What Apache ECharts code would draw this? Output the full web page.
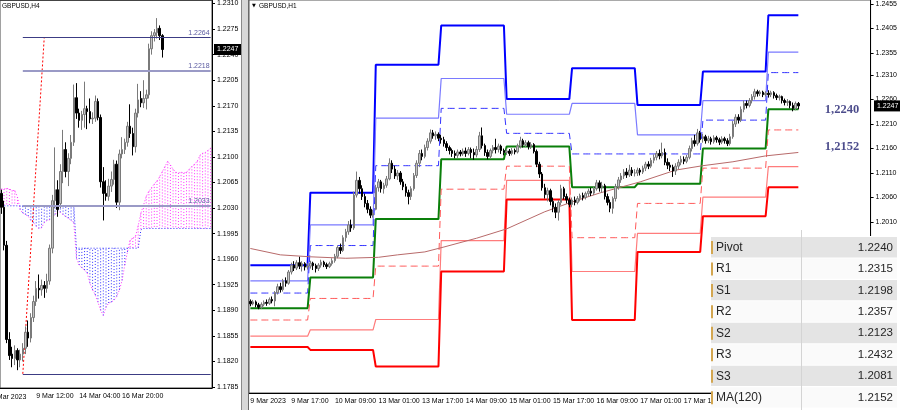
<!DOCTYPE html>
<html><head><meta charset="utf-8">
<script src="https://cdn.jsdelivr.net/npm/echarts@6/dist/echarts.min.js"></script>
<style>html,body{margin:0;padding:0;background:#fff;}#c{width:900px;height:410px;}</style>
</head><body><div id="c"></div>
<script>
// ---------------- LEFT PANEL (GBPUSD, H4) ----------------
const h4Days = ['7 Mar','8 Mar','9 Mar','10 Mar','13 Mar','14 Mar','15 Mar','16 Mar','17 Mar','20 Mar','21 Mar','22 Mar','23 Mar','24 Mar'];
const h4Hours = ['00:00','04:00','08:00','12:00','16:00','20:00'];
const leftAxisTicks = [1.2310,1.2275,1.2240,1.2205,1.2170,1.2135,1.2100,1.2065,1.2030,1.1995,1.1960,1.1925,1.1890,1.1855,1.1820,1.1785];
// [open, close, low, high]
const h4Candles = [
 [1.2050,1.2031,1.2022,1.2055],[1.2031,1.1979,1.1972,1.2040],[1.1979,1.1850,1.1845,1.1985],[1.1850,1.1828,1.1822,1.1860],
 [1.1830,1.1824,1.1812,1.1840],[1.1824,1.1835,1.1815,1.1842],[1.1835,1.1822,1.1808,1.1838],[1.1822,1.1830,1.1812,1.1836],
 [1.1830,1.1838,1.1820,1.1845],[1.1838,1.1860,1.1830,1.1868],[1.1860,1.1852,1.1840,1.1876],[1.1852,1.1880,1.1846,1.1886],
 [1.1880,1.1902,1.1874,1.1910],[1.1902,1.1920,1.1896,1.1930],[1.1920,1.1918,1.1906,1.1939],[1.1918,1.1924,1.1910,1.1932],
 [1.1924,1.1920,1.1907,1.1930],[1.1920,1.1930,1.1914,1.1940],[1.1930,1.1975,1.1925,1.1980],[1.1975,1.2040,1.1968,1.2048],
 [1.2040,1.2055,1.2030,1.2113],[1.2055,1.2028,1.2018,1.2068],[1.2036,1.2080,1.2030,1.2090],[1.2080,1.2110,1.2064,1.2137],
 [1.2110,1.2080,1.2072,1.2120],[1.2080,1.2098,1.2060,1.2105],[1.2098,1.2120,1.2090,1.2130],[1.2120,1.2181,1.2115,1.2199],
 [1.2181,1.2160,1.2152,1.2201],[1.2160,1.2150,1.2140,1.2166],[1.2150,1.2158,1.2137,1.2163],[1.2158,1.2166,1.2140,1.2203],
 [1.2166,1.2162,1.2138,1.2170],[1.2162,1.2152,1.2146,1.2180],[1.2152,1.2153,1.2145,1.2161],[1.2153,1.2176,1.2148,1.2184],
 [1.2176,1.2154,1.2150,1.2180],[1.2154,1.2066,1.2058,1.2158],[1.2066,1.2050,1.2013,1.2086],[1.2050,1.2046,1.2040,1.2068],
 [1.2046,1.2060,1.2040,1.2070],[1.2060,1.2069,1.2052,1.2080],[1.2069,1.2090,1.2062,1.2096],[1.2090,1.2038,1.2030,1.2095],
 [1.2038,1.2104,1.2027,1.2110],[1.2104,1.2110,1.2098,1.2127],[1.2110,1.2120,1.2104,1.2125],[1.2120,1.2142,1.2114,1.2148],
 [1.2142,1.2132,1.2126,1.2172],[1.2132,1.2114,1.2102,1.2140],[1.2114,1.2160,1.2106,1.2166],[1.2160,1.2178,1.2154,1.2200],
 [1.2180,1.2174,1.2168,1.2190],[1.2174,1.2180,1.2167,1.2205],[1.2180,1.2185,1.2165,1.2192],[1.2185,1.2248,1.2180,1.2255],
 [1.2248,1.2266,1.2240,1.2272],[1.2266,1.2270,1.2258,1.2275],[1.2270,1.2276,1.2262,1.2290],[1.2276,1.2266,1.2260,1.2280],
 [1.2266,1.2247,1.2236,1.2268]
];
const spanA = [1.2056,1.2056,1.2057,1.2056,1.2054,1.2054,1.2045,1.2028,1.2023,1.2021,1.2019,1.2013,1.2010,1.2005,1.2002,1.2003,
 1.2010,1.2013,1.2014,1.2017,1.2021,1.2026,1.2024,1.2021,1.2018,1.2016,1.2013,1.2010,1.1961,1.1952,1.1948,1.1945,1.1941,1.1927,
 1.1918,1.1911,1.1901,1.1890,1.1883,1.1894,1.1900,1.1901,1.1904,1.1909,1.1918,1.1931,1.1952,1.1970,1.1986,1.1989,1.1991,1.2006,
 1.2023,1.2034,1.2046,1.2053,1.2058,1.2063,1.2067,1.2073,1.2080,1.2087,1.2094,1.2089,1.2083,1.2079,1.2078,1.2079,1.2078,1.2079,
 1.2083,1.2087,1.2090,1.2094,1.2102,1.2105,1.2106,1.2109,1.2112];
const spanB = [1.2033,1.2033,1.2033,1.2033,1.2033,1.2033,1.2033,1.2033,1.2033,1.2033,1.2033,1.2033,1.2033,1.2033,1.2033,1.2033,
 1.2033,1.2033,1.2033,1.2033,1.2033,1.2033,1.2033,1.2033,1.2033,1.2033,1.2033,1.2033,1.1975,1.1975,1.1975,1.1975,1.1975,1.1975,
 1.1975,1.1975,1.1975,1.1975,1.1975,1.1975,1.1975,1.1975,1.1975,1.1975,1.1975,1.1975,1.1975,1.1975,1.1975,1.1975,1.1975,1.1975,
 1.2000,1.2002,1.2002,1.2002,1.2002,1.2002,1.2002,1.2002,1.2002,1.2002,1.2002,1.2002,1.2002,1.2002,1.2002,1.2002,1.2002,1.2002,
 1.2002,1.2002,1.2002,1.2002,1.2002,1.2002,1.2002,1.2002,1.2002];
const fibLevels = [1.2264, 1.2218, 1.2033, 1.1803];
const fibLabels = ['1.2264','1.2218','1.2033',''];
const fibTrend = [[8, 1.1803], [16, 1.2264]];

// ---------------- RIGHT PANEL (GBPUSD, H1) ----------------
const h1Days = ['9 Mar','10 Mar','13 Mar','14 Mar','15 Mar','16 Mar','17 Mar','20 Mar','21 Mar','22 Mar'];
const rightAxisTicks = [1.2455,1.2405,1.2355,1.2310,1.2260,1.2210,1.2160,1.2110,1.2060,1.2010];
const h1_09Mar = [
 [1.1848,1.1843,1.1838,1.1852],[1.1843,1.1847,1.1840,1.1851],[1.1847,1.1841,1.1836,1.1850],[1.1841,1.1836,1.1832,1.1845],
 [1.1836,1.1842,1.1833,1.1846],[1.1842,1.1846,1.1838,1.1850],[1.1846,1.1844,1.1839,1.1852],[1.1844,1.1852,1.1841,1.1856],
 [1.1852,1.1849,1.1844,1.1858],[1.1849,1.1866,1.1838,1.1869],[1.1866,1.1878,1.1862,1.1884],[1.1878,1.1872,1.1866,1.1886],
 [1.1872,1.1890,1.1868,1.1894],[1.1890,1.1885,1.1878,1.1897],[1.1885,1.1908,1.1882,1.1912],[1.1908,1.1922,1.1903,1.1927],
 [1.1922,1.1916,1.1910,1.1930],[1.1916,1.1927,1.1912,1.1932],[1.1927,1.1920,1.1914,1.1939],[1.1920,1.1925,1.1909,1.1930],
 [1.1925,1.1918,1.1911,1.1928],[1.1918,1.1920,1.1913,1.1926]];
const h1_10Mar = [
 [1.1920,1.1926,1.1915,1.1931],[1.1926,1.1921,1.1912,1.1929],[1.1921,1.1915,1.1907,1.1925],[1.1915,1.1922,1.1910,1.1926],
 [1.1922,1.1928,1.1917,1.1933],[1.1928,1.1923,1.1918,1.1931],[1.1923,1.1919,1.1914,1.1927],[1.1919,1.1925,1.1916,1.1929],
 [1.1925,1.1931,1.1921,1.1936],[1.1931,1.1940,1.1927,1.1945],[1.1940,1.1958,1.1936,1.1962],[1.1958,1.1952,1.1945,1.1966],
 [1.1952,1.1978,1.1949,1.1983],[1.1978,1.1990,1.1970,1.1996],[1.1990,1.2004,1.1984,1.2012],[1.2004,1.1998,1.1990,1.2015],
 [1.1998,1.2065,1.1994,1.2072],[1.2065,1.2095,1.2060,1.2113],[1.2095,1.2078,1.2068,1.2102],[1.2078,1.2062,1.2055,1.2085],
 [1.2062,1.2048,1.2040,1.2068],[1.2048,1.2036,1.2028,1.2055],[1.2036,1.2024,1.2018,1.2042],[1.2024,1.2028,1.2019,1.2035]];
const h1_13Mar = [
 [1.2036,1.2080,1.2034,1.2086],[1.2080,1.2092,1.2072,1.2098],[1.2092,1.2078,1.2070,1.2096],[1.2078,1.2085,1.2068,1.2090],
 [1.2085,1.2098,1.2080,1.2104],[1.2098,1.2130,1.2095,1.2140],[1.2130,1.2118,1.2110,1.2136],[1.2118,1.2104,1.2098,1.2125],
 [1.2104,1.2110,1.2096,1.2116],[1.2110,1.2092,1.2086,1.2114],[1.2092,1.2082,1.2075,1.2098],[1.2082,1.2070,1.2062,1.2088],
 [1.2070,1.2062,1.2046,1.2076],[1.2062,1.2078,1.2055,1.2083],[1.2078,1.2105,1.2074,1.2110],[1.2105,1.2130,1.2100,1.2136],
 [1.2130,1.2150,1.2122,1.2157],[1.2150,1.2144,1.2136,1.2158],[1.2144,1.2162,1.2140,1.2168],[1.2162,1.2175,1.2156,1.2181],
 [1.2175,1.2192,1.2170,1.2199],[1.2192,1.2186,1.2180,1.2198],[1.2186,1.2189,1.2178,1.2195],[1.2189,1.2181,1.2175,1.2193]];
const h1_14Mar = [
 [1.2181,1.2178,1.2170,1.2188],[1.2178,1.2170,1.2164,1.2184],[1.2170,1.2162,1.2155,1.2175],[1.2162,1.2156,1.2148,1.2166],
 [1.2156,1.2150,1.2143,1.2160],[1.2150,1.2146,1.2140,1.2156],[1.2146,1.2153,1.2141,1.2158],[1.2153,1.2149,1.2144,1.2157],
 [1.2149,1.2155,1.2145,1.2160],[1.2155,1.2150,1.2143,1.2162],[1.2150,1.2158,1.2146,1.2163],[1.2158,1.2152,1.2140,1.2162],
 [1.2152,1.2147,1.2137,1.2160],[1.2147,1.2158,1.2142,1.2165],[1.2158,1.2186,1.2153,1.2194],[1.2186,1.2166,1.2160,1.2203],
 [1.2166,1.2152,1.2145,1.2170],[1.2152,1.2144,1.2138,1.2158],[1.2144,1.2156,1.2139,1.2160],[1.2156,1.2162,1.2150,1.2167],
 [1.2162,1.2158,1.2150,1.2180],[1.2158,1.2165,1.2152,1.2170],[1.2165,1.2156,1.2149,1.2168],[1.2156,1.2152,1.2146,1.2160]];
const h1_15Mar = [
 [1.2152,1.2155,1.2147,1.2160],[1.2155,1.2150,1.2145,1.2159],[1.2150,1.2156,1.2146,1.2161],[1.2156,1.2153,1.2148,1.2160],
 [1.2153,1.2165,1.2150,1.2170],[1.2165,1.2176,1.2160,1.2184],[1.2176,1.2168,1.2162,1.2180],[1.2168,1.2172,1.2163,1.2177],
 [1.2172,1.2164,1.2158,1.2176],[1.2164,1.2168,1.2159,1.2173],[1.2168,1.2154,1.2150,1.2171],[1.2154,1.2128,1.2122,1.2158],
 [1.2128,1.2108,1.2100,1.2133],[1.2108,1.2080,1.2074,1.2112],[1.2080,1.2066,1.2058,1.2088],[1.2066,1.2074,1.2052,1.2080],
 [1.2074,1.2052,1.2044,1.2078],[1.2052,1.2040,1.2030,1.2060],[1.2040,1.2030,1.2018,1.2048],[1.2030,1.2050,1.2013,1.2055],
 [1.2050,1.2078,1.2044,1.2086],[1.2078,1.2062,1.2056,1.2082],[1.2062,1.2055,1.2048,1.2068],[1.2055,1.2046,1.2040,1.2060]];
const h1_16Mar = [
 [1.2046,1.2055,1.2040,1.2060],[1.2055,1.2050,1.2044,1.2062],[1.2050,1.2058,1.2046,1.2063],[1.2058,1.2064,1.2052,1.2068],
 [1.2064,1.2060,1.2054,1.2070],[1.2060,1.2068,1.2056,1.2072],[1.2068,1.2073,1.2062,1.2078],[1.2073,1.2069,1.2063,1.2080],
 [1.2069,1.2078,1.2065,1.2083],[1.2078,1.2090,1.2074,1.2096],[1.2090,1.2080,1.2072,1.2095],[1.2080,1.2084,1.2070,1.2092],
 [1.2084,1.2062,1.2056,1.2088],[1.2062,1.2050,1.2044,1.2068],[1.2050,1.2038,1.2030,1.2056],[1.2038,1.2058,1.2027,1.2062],
 [1.2058,1.2082,1.2052,1.2088],[1.2082,1.2096,1.2076,1.2102],[1.2096,1.2104,1.2090,1.2110],[1.2104,1.2112,1.2098,1.2118],
 [1.2112,1.2106,1.2100,1.2120],[1.2106,1.2116,1.2102,1.2127],[1.2116,1.2110,1.2104,1.2122],[1.2110,1.2110,1.2103,1.2118]];
const h1_17Mar = [
 [1.2110,1.2116,1.2104,1.2121],[1.2116,1.2112,1.2105,1.2120],[1.2112,1.2120,1.2108,1.2125],[1.2120,1.2128,1.2114,1.2133],
 [1.2128,1.2124,1.2118,1.2134],[1.2124,1.2136,1.2120,1.2141],[1.2136,1.2142,1.2130,1.2148],[1.2142,1.2150,1.2136,1.2155],
 [1.2150,1.2145,1.2138,1.2158],[1.2145,1.2152,1.2140,1.2172],[1.2152,1.2132,1.2126,1.2160],[1.2132,1.2126,1.2118,1.2140],
 [1.2126,1.2122,1.2114,1.2132],[1.2122,1.2114,1.2102,1.2127],[1.2114,1.2124,1.2106,1.2130],[1.2124,1.2132,1.2118,1.2138],
 [1.2132,1.2138,1.2126,1.2145],[1.2138,1.2134,1.2128,1.2144],[1.2134,1.2142,1.2130,1.2147],[1.2142,1.2160,1.2138,1.2166],
 [1.2160,1.2176,1.2154,1.2182],[1.2176,1.2170,1.2164,1.2188],[1.2170,1.2192,1.2166,1.2200],[1.2192,1.2178,1.2172,1.2196]];
const h1_20Mar = [
 [1.2180,1.2184,1.2172,1.2190],[1.2184,1.2176,1.2170,1.2188],[1.2176,1.2180,1.2171,1.2186],[1.2180,1.2174,1.2168,1.2184],
 [1.2174,1.2182,1.2170,1.2187],[1.2182,1.2178,1.2172,1.2186],[1.2178,1.2173,1.2167,1.2182],[1.2173,1.2180,1.2169,1.2185],
 [1.2180,1.2176,1.2170,1.2184],[1.2176,1.2170,1.2165,1.2181],[1.2170,1.2184,1.2166,1.2190],[1.2184,1.2210,1.2180,1.2216],
 [1.2210,1.2224,1.2204,1.2230],[1.2224,1.2218,1.2211,1.2230],[1.2218,1.2240,1.2214,1.2246],[1.2240,1.2252,1.2234,1.2258],
 [1.2252,1.2248,1.2242,1.2258],[1.2248,1.2258,1.2244,1.2263],[1.2258,1.2266,1.2252,1.2271],[1.2266,1.2276,1.2260,1.2282],
 [1.2276,1.2272,1.2266,1.2280],[1.2272,1.2275,1.2267,1.2279],[1.2275,1.2270,1.2265,1.2278],[1.2270,1.2273,1.2266,1.2277]];
const h1_21Mar = [
 [1.2273,1.2270,1.2264,1.2279],[1.2270,1.2274,1.2265,1.2278],[1.2274,1.2268,1.2262,1.2277],[1.2268,1.2264,1.2259,1.2272],
 [1.2264,1.2266,1.2258,1.2270],[1.2266,1.2258,1.2252,1.2268],[1.2258,1.2254,1.2248,1.2262],[1.2254,1.2256,1.2247,1.2261],
 [1.2256,1.2248,1.2242,1.2258],[1.2248,1.2242,1.2236,1.2254],[1.2242,1.2252,1.2238,1.2256],[1.2252,1.2247,1.2240,1.2255]];
// daily pivot levels: 9,10,13,14,15,16,17,20,21 Mar
const dayBars = [22,24,24,24,24,24,24,24,12];
const levelR3 = [1.1922,1.2070,1.2331,1.2411,1.2261,1.2324,1.2249,1.2317,1.2432];
const levelR2 = [1.1890,1.2004,1.2222,1.2303,1.2230,1.2252,1.2188,1.2258,1.2357];
const levelR1 = [1.1865,1.1962,1.2125,1.2242,1.2191,1.2149,1.2149,1.2218,1.2315];
const levelP  = [1.1834,1.1897,1.2016,1.2138,1.2164,1.2081,1.2088,1.2160,1.2240];
const levelS1 = [1.1810,1.1854,1.1920,1.2077,1.2124,1.1978,1.2048,1.2120,1.2198];
const levelS2 = [1.1777,1.1790,1.1811,1.1972,1.2095,1.1909,1.1987,1.2061,1.2123];
const levelS3 = [1.1755,1.1749,1.1715,1.1909,1.2056,1.1810,1.1949,1.2022,1.2081];
// MA(120) readings: [bar index, value]
const ma120 = [[0,1.1956],[11,1.1943],[22,1.1939],[35,1.1936],[47,1.1938],[54,1.1943],[64,1.1949],[71,1.1959],
 [83,1.1977],[94,1.1996],[108,1.2031],[118,1.2051],[128,1.2069],[143,1.2092],[156,1.2116],[166,1.2125],[177,1.2133],[189,1.2145],[201,1.2152]];
const tableLabels = ['Pivot','R1','S1','R2','S2','R3','S3','MA(120)'];
const tableValues = [1.2240,1.2315,1.2198,1.2357,1.2123,1.2432,1.2081,1.2152];
const lastPrice = 1.2247;

// ---------------- build ----------------
const leftCats = [];
h4Days.forEach(d => h4Hours.forEach(h => leftCats.push(d + ' ' + h)));
leftCats.splice(0, 2); leftCats.length = 79;
const rightCats = [];
h1Days.forEach(d => { for (let h = 0; h < 24; h++) rightCats.push(d + ' ' + String(h).padStart(2,'0') + ':00'); });
rightCats.splice(0, 2); rightCats.length = 228;
const h1Candles = [].concat(h1_09Mar, h1_10Mar, h1_13Mar, h1_14Mar, h1_15Mar, h1_16Mar, h1_17Mar, h1_20Mar, h1_21Mar);
function expand(levels) { const out = []; levels.forEach((v, d) => { for (let k = 0; k < dayBars[d]; k++) out.push(v); }); return out; }

const FONT = '"Liberation Sans", Arial, sans-serif';
const candleStyle = { color: '#c4c4c4', color0: '#000000', borderColor: '#7a7a7a', borderColor0: '#000000', borderWidth: 1 };

function pivotLine(name, levels, color, width, dash) {
  return { name, type: 'line', xAxisIndex: 1, yAxisIndex: 1, data: expand(levels), symbol: 'none', silent: true, z: 3,
    lineStyle: { color, width, type: dash ? [7, 4] : 'solid' } };
}

const option = {
  animation: false,
  backgroundColor: '#ffffff',
  grid: [
    { left: -2, top: 0, width: 214, height: 388, show: true, borderColor: '#444', borderWidth: 1, backgroundColor: '#fff' },
    { left: 249, top: 0, width: 623, height: 393, show: true, borderColor: '#555', borderWidth: 1, backgroundColor: '#fff' }
  ],
  xAxis: [
    { type: 'category', gridIndex: 0, data: leftCats, boundaryGap: true,
      axisLine: { lineStyle: { color: '#000' } },
      axisTick: { alignWithLabel: true, length: 3, interval: (i) => i <= 60 && (i - 13) % 16 === 0, lineStyle: { color: '#000' } },
      axisLabel: { interval: (i) => i <= 60 && (i - 13) % 16 === 0, align: 'left', fontSize: 7, fontFamily: FONT, color: '#000', margin: 5 },
      splitLine: { show: false } },
    { type: 'category', gridIndex: 1, data: rightCats, boundaryGap: true,
      axisLine: { lineStyle: { color: '#000' } },
      axisTick: { alignWithLabel: true, length: 3, interval: (i) => i <= 201 && (i === 0 || (i - 15) % 16 === 0), lineStyle: { color: '#000' } },
      axisLabel: { interval: (i) => i <= 201 && (i === 0 || (i - 15) % 16 === 0), align: 'left', fontSize: 7, fontFamily: FONT, color: '#000', margin: 5,
        formatter: (v, i) => i === 0 ? '9 Mar 2023' : v },
      splitLine: { show: false } }
  ],
  yAxis: [
    { type: 'value', gridIndex: 0, position: 'right', min: 1.17836, max: 1.23141, scale: true,
      axisLine: { show: true, lineStyle: { color: '#000' } },
      axisTick: { show: true, length: 3, customValues: leftAxisTicks, lineStyle: { color: '#000' } },
      axisLabel: { customValues: leftAxisTicks, formatter: (v) => v.toFixed(4), fontSize: 7, fontFamily: FONT, color: '#000', margin: 5 },
      splitLine: { show: false } },
    { type: 'value', gridIndex: 1, position: 'right', min: 1.16610, max: 1.24632, scale: true,
      axisLine: { show: true, lineStyle: { color: '#000' } },
      axisTick: { show: true, length: 3, customValues: rightAxisTicks, lineStyle: { color: '#000' } },
      axisLabel: { customValues: rightAxisTicks, formatter: (v) => v.toFixed(4), fontSize: 7, fontFamily: FONT, color: '#000', margin: 5 },
      splitLine: { show: false } }
  ],
  series: [
    // Ichimoku cloud hatch
    { type: 'custom', xAxisIndex: 0, yAxisIndex: 0, silent: true, z: 1, clip: true,
      data: spanA.map((a, i) => [i, a, spanB[i]]),
      renderItem: function (params, api) {
        const x = api.value(0), a = api.value(1), b = api.value(2);
        const pa = api.coord([x, a]), pb = api.coord([x, b]);
        return { type: 'line', shape: { x1: pa[0], y1: pa[1], x2: pb[0], y2: pb[1] },
          style: { stroke: a > b ? '#ff33ff' : '#3333ff', lineWidth: 1, lineDash: [1, 2] } };
      } },
    { type: 'line', xAxisIndex: 0, yAxisIndex: 0, data: spanA, symbol: 'none', silent: true, z: 2,
      lineStyle: { color: '#ff33ff', width: 1, type: [1, 2] } },
    { type: 'line', xAxisIndex: 0, yAxisIndex: 0, data: spanB, symbol: 'none', silent: true, z: 2,
      lineStyle: { color: '#3333ff', width: 1, type: [1, 2] },
      markLine: { silent: true, symbol: 'none', animation: false,
        data: fibLevels.map((v, k) => [
          { coord: [8, v], lineStyle: { color: k === 1 || k === 2 ? '#9a9ac6' : '#3c3c84', width: k === 1 || k === 2 ? 2 : 1, type: 'solid' },
            label: { show: fibLabels[k] !== '', formatter: fibLabels[k], position: 'insideEndTop', color: '#5a5aa0', fontSize: 7, fontFamily: FONT, distance: 1 } },
          { coord: [78, v] }
        ]) } },
    { type: 'line', xAxisIndex: 0, yAxisIndex: 0, data: fibTrend, symbol: 'none', silent: true, z: 2,
      lineStyle: { color: '#ff0000', width: 1, type: [2, 2] } },
    { type: 'candlestick', xAxisIndex: 0, yAxisIndex: 0, data: h4Candles, barWidth: 2, itemStyle: candleStyle, z: 4, silent: true },
    // right panel
    pivotLine('R3', levelR3, '#0000ff', 2, false),
    pivotLine('R2', levelR2, '#7a7aff', 1.2, false),
    pivotLine('R1', levelR1, '#3434ff', 1, true),
    pivotLine('P', levelP, '#0a7f0a', 2, false),
    pivotLine('S1', levelS1, '#ff5a5a', 1, true),
    pivotLine('S2', levelS2, '#ff7c7c', 1.2, false),
    pivotLine('S3', levelS3, '#ff0000', 2, false),
    { type: 'line', xAxisIndex: 1, yAxisIndex: 1, data: ma120, symbol: 'none', silent: true, z: 3,
      lineStyle: { color: '#b86a6a', width: 1 } },
    { type: 'candlestick', xAxisIndex: 1, yAxisIndex: 1, data: h1Candles, barWidth: 2, itemStyle: candleStyle, z: 5, silent: true },
    { type: 'scatter', xAxisIndex: 1, yAxisIndex: 1, symbolSize: 0, silent: true, z: 6,
      data: [[217, levelP[levelP.length - 1]], [217, ma120[ma120.length - 1][1]]],
      label: { show: true, position: 'inside', formatter: (p) => p.value[1].toFixed(4).replace('.', ','),
        fontFamily: '"Liberation Serif", "DejaVu Serif", serif', fontWeight: 'bold', fontSize: 12.5, color: '#1e1e6e',
        offset: [0, 0] },
      labelLayout: (p) => p.dataIndex === 1 ? { dy: -6 } : {} }
  ]
};

const chart = echarts.init(document.getElementById('c'), null, { renderer: 'canvas', width: 900, height: 410 });
chart.setOption(option);

const yL = chart.convertToPixel({ gridIndex: 0 }, [0, lastPrice])[1];
const yR = chart.convertToPixel({ gridIndex: 1 }, [0, lastPrice])[1];

const g = [];
// panel divider
g.push({ type: 'rect', shape: { x: 241, y: 0, width: 7, height: 410 }, style: { fill: '#d8d8d8' }, z: 50 });
g.push({ type: 'line', shape: { x1: 241.5, y1: 0, x2: 241.5, y2: 410 }, style: { stroke: '#8a8a8a', lineWidth: 1 }, z: 51 });
g.push({ type: 'line', shape: { x1: 248.5, y1: 0, x2: 248.5, y2: 410 }, style: { stroke: '#6a6a6a', lineWidth: 1 }, z: 51 });
// titles
g.push({ type: 'text', x: 2, y: 6, style: { text: 'GBPUSD,H4', fontSize: 6.5, fontFamily: FONT, fill: '#000', verticalAlign: 'middle' }, z: 60 });
g.push({ type: 'text', x: 252, y: 6, style: { text: '▼', fontSize: 5, fontFamily: '"DejaVu Sans"', fill: '#000', verticalAlign: 'middle' }, z: 60 });
g.push({ type: 'text', x: 259, y: 6, style: { text: 'GBPUSD,H1', fontSize: 6.5, fontFamily: FONT, fill: '#000', verticalAlign: 'middle' }, z: 60 });
// first (cut) date label of left panel
g.push({ type: 'text', x: -9, y: 397, style: { text: '7 Mar 2023', fontSize: 7, fontFamily: FONT, fill: '#000', verticalAlign: 'middle' }, z: 60 });
// current price boxes
g.push({ type: 'rect', shape: { x: 214, y: yL - 5.5, width: 27, height: 11 }, style: { fill: '#000' }, z: 60 });
g.push({ type: 'text', x: 217, y: yL, style: { text: lastPrice.toFixed(4), fontSize: 7, fontFamily: FONT, fill: '#fff', verticalAlign: 'middle' }, z: 61 });
g.push({ type: 'rect', shape: { x: 874, y: yR - 5.5, width: 26, height: 11 }, style: { fill: '#000' }, z: 60 });
g.push({ type: 'text', x: 877, y: yR, style: { text: lastPrice.toFixed(4), fontSize: 7, fontFamily: FONT, fill: '#fff', verticalAlign: 'middle' }, z: 61 });
// table
g.push({ type: 'rect', shape: { x: 711, y: 236, width: 189, height: 174 }, style: { fill: '#ffffff' }, z: 100 });
tableLabels.forEach((lab, k) => {
  const y0 = 237 + k * 21.45;
  g.push({ type: 'rect', shape: { x: 711, y: y0, width: 186, height: 20.4 }, style: { fill: k % 2 === 0 ? '#e4e4e4' : '#fafafa' }, z: 101 });
  g.push({ type: 'rect', shape: { x: 711, y: y0 + 4, width: 2, height: 13 }, style: { fill: '#d3a650' }, z: 102 });
  g.push({ type: 'text', x: 716, y: y0 + 10.5, style: { text: lab, fontSize: 12, fontFamily: FONT, fill: '#262626', verticalAlign: 'middle', align: 'left' }, z: 102 });
  g.push({ type: 'text', x: 893, y: y0 + 10.5, style: { text: tableValues[k].toFixed(4), fontSize: 11.5, fontFamily: FONT, fill: '#262626', verticalAlign: 'middle', align: 'right' }, z: 102 });
});
g.push({ type: 'line', shape: { x1: 801.5, y1: 230, x2: 801.5, y2: 410 }, style: { stroke: '#d4d4d4', lineWidth: 1 }, z: 103 });

chart.setOption({ graphic: { elements: g } });
</script></body></html>
